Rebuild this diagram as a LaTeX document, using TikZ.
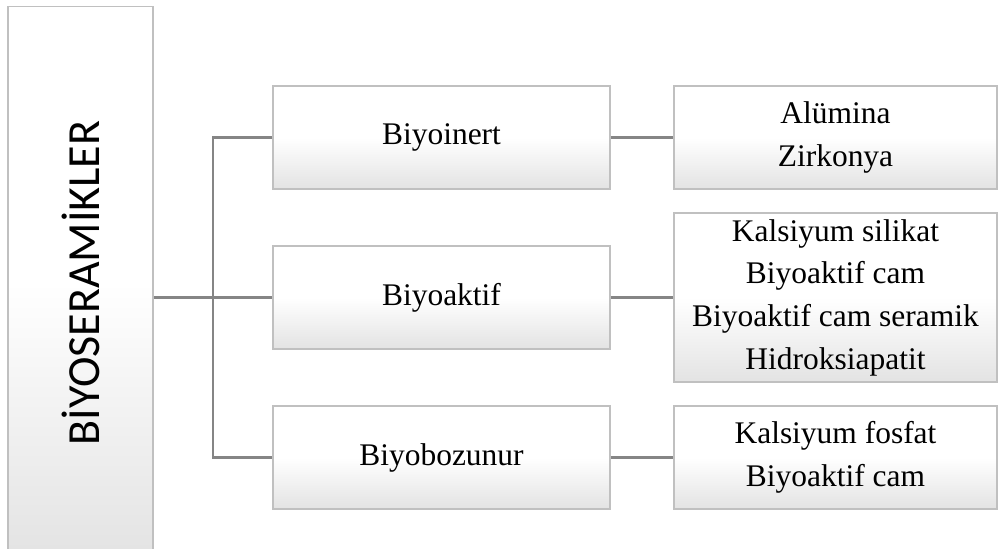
\documentclass[tikz,border=0pt]{standalone}
\usepackage{fontspec}
\setmainfont{Liberation Serif}
\newfontfamily\timesf{Liberation Serif}
\newfontfamily\carlito{Carlito}
\definecolor{edgegray}{HTML}{C0C0C0}
\definecolor{linegray}{HTML}{858585}
\begin{document}
\begin{tikzpicture}[x=0.75pt,y=-0.75pt,
  boxbase/.style={draw=edgegray, line width=0.8pt, top color=white, bottom color=black!11, middle color=white, inner sep=0pt, align=center, font=\timesf\fontsize{23.6}{32}\selectfont},
  midbox/.style={boxbase, minimum width=252.75pt, minimum height=77.25pt},
  rightbox/.style={boxbase, minimum width=242.25pt},
  conn/.style={draw=linegray, line width=2pt}
]
\clip (0,0) rectangle (1000,549);
\fill[white] (0,0) rectangle (1000,549);
% root
\node[boxbase, minimum width=108.75pt, minimum height=415pt, font=\carlito\fontsize{34.5}{40}\selectfont] (root) at (80.5,283) {\rotatebox{90}{BİYOSERAMİKLER}};
% middle column
\node[midbox] (b1) at (441.5,137.5) {Biyoinert};
\node[midbox] (b2) at (441.5,297.5) {Biyoaktif};
\node[midbox] (b3) at (441.5,457.5) {Biyobozunur};
% right column
\node[rightbox, minimum height=77.25pt] (c1) at (835.5,137.5) {Alümina\\Zirkonya};
\node[rightbox, minimum height=126.75pt] (c2) at (835.5,297.5) {Kalsiyum silikat\\Biyoaktif cam\\Biyoaktif cam seramik\\Hidroksiapatit};
\node[rightbox, minimum height=77.25pt] (c3) at (835.5,457.5) {Kalsiyum fosfat\\Biyoaktif cam};
% connectors
\coordinate (j) at (213,297.5);
\draw[conn, line width=2.4pt] (root.east |- j) -- (j);
\draw[conn] (j) -- (b2.west);
\draw[conn] (b1.west) -| (j) |- (b3.west);
\draw[conn] (b1.east) -- (c1.west);
\draw[conn] (b2.east) -- (c2.west);
\draw[conn] (b3.east) -- (c3.west);
\end{tikzpicture}
\end{document}
